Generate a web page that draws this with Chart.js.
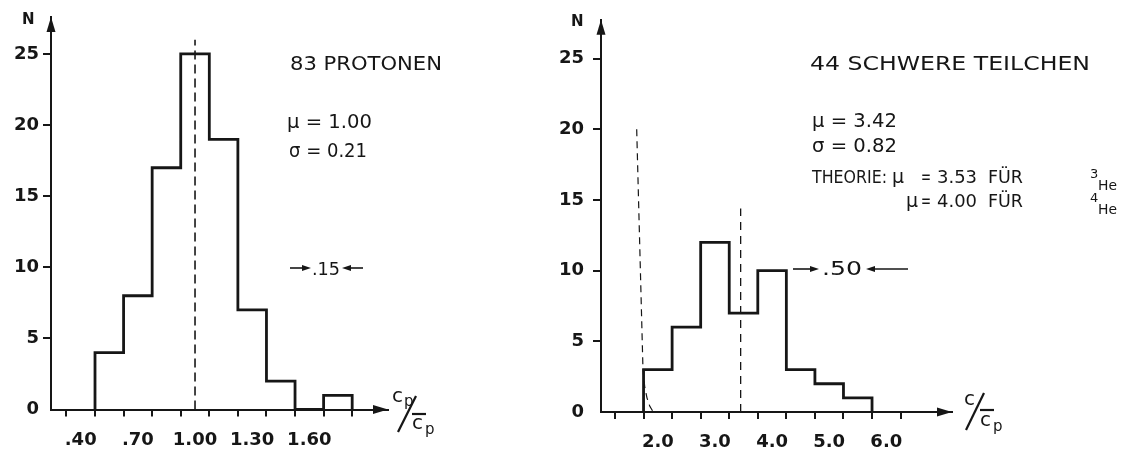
<!DOCTYPE html>
<html>
<head>
<meta charset="utf-8">
<script src="https://cdn.jsdelivr.net/npm/chart.js@4.4.1/dist/chart.umd.min.js"></script>
<style>
  html, body { margin: 0; padding: 0; background: #fff; }
  #wrap { position: relative; width: 1121px; height: 454px; }
  #left { position: absolute; left: 0; top: 0; width: 560px; height: 454px; }
  #right { position: absolute; left: 560px; top: 0; width: 561px; height: 454px; }
</style>
</head>
<body>
<div id="wrap">
  <div id="left"><canvas id="proton-chart"></canvas></div>
  <div id="right"><canvas id="heavy-chart"></canvas></div>
</div>
<script>
/* ---- data: protons (left) ---- */
const PROTON_EDGES = [0.475, 0.625, 0.775, 0.925, 1.075, 1.225, 1.375, 1.525, 1.675, 1.825];
const PROTON_COUNTS = [4, 8, 17, 25, 19, 7, 2, 0, 1];
const PROTON_TICK_MARKS = [0.325, 0.475, 0.625, 0.775, 0.925, 1.075, 1.225, 1.375, 1.525, 1.675, 1.825];
const PROTON_LABEL_VALUES = [0.40, 0.70, 1.00, 1.30, 1.60];
const PROTON_LABEL_TEXT = ['.40', '.70', '1.00', '1.30', '1.60'];
const PROTON_MEAN = 1.00;
const PROTON_MEAN_TOP = 26;

/* ---- data: heavy particles (right) ---- */
const HEAVY_EDGES = [1.75, 2.25, 2.75, 3.25, 3.75, 4.25, 4.75, 5.25, 5.75];
const HEAVY_COUNTS = [3, 6, 12, 7, 10, 3, 2, 1];
const HEAVY_TICK_MARKS = [1.25, 1.75, 2.25, 2.75, 3.25, 3.75, 4.25, 4.75, 5.25, 5.75, 6.25];
const HEAVY_LABEL_VALUES = [2.0, 3.0, 4.0, 5.0, 6.0];
const HEAVY_LABEL_TEXT = ['2.0', '3.0', '4.0', '5.0', '6.0'];
const HEAVY_MEAN = 3.45;
const HEAVY_MEAN_TOP = 14.4;
const CUTOFF_X = [1.63, 1.74, 1.77, 1.81, 1.86, 1.92];
const CUTOFF_Y = [20, 3, 1.8, 1.0, 0.4, 0];

const Y_TICKS = [0, 5, 10, 15, 20, 25];

const INK = '#161616';
const FONT = '"DejaVu Sans", "Liberation Sans", sans-serif';

function stepPoints(edges, counts) {
  const pts = [{ x: edges[0], y: 0 }];
  counts.forEach((c, i) => pts.push({ x: edges[i], y: c }));
  pts.push({ x: edges[edges.length - 1], y: 0 });
  return pts;
}

function isLabelValue(values, v) {
  return values.some(l => Math.abs(l - v) < 1e-6);
}

function drawText(ctx, str, x, y, size, width, weight) {
  ctx.save();
  ctx.font = `${weight || 'normal'} ${size}px ${FONT}`;
  ctx.fillStyle = INK;
  ctx.textAlign = 'left';
  ctx.textBaseline = 'alphabetic';
  if (width) {
    const w = ctx.measureText(str).width;
    ctx.translate(x, y);
    ctx.scale(width / w, 1);
    ctx.fillText(str, 0, 0);
  } else {
    ctx.fillText(str, x, y);
  }
  ctx.restore();
}

function arrow(ctx, fromX, toX, y) {
  // line with filled head at toX
  const dir = toX > fromX ? 1 : -1;
  ctx.save();
  ctx.strokeStyle = INK; ctx.fillStyle = INK; ctx.lineWidth = 1.6;
  ctx.beginPath(); ctx.moveTo(fromX, y); ctx.lineTo(toX - dir * 6, y); ctx.stroke();
  ctx.beginPath(); ctx.moveTo(toX, y); ctx.lineTo(toX - dir * 9, y - 3); ctx.lineTo(toX - dir * 9, y + 3); ctx.closePath(); ctx.fill();
  ctx.restore();
}

const axisArrows = {
  id: 'axisArrows',
  afterDraw(chart) {
    const { ctx, chartArea: a } = chart;
    ctx.save();
    ctx.fillStyle = INK;
    ctx.beginPath(); ctx.moveTo(a.left, a.top); ctx.lineTo(a.left - 4.5, a.top + 15); ctx.lineTo(a.left + 4.5, a.top + 15); ctx.closePath(); ctx.fill();
    ctx.beginPath(); ctx.moveTo(a.right, a.bottom); ctx.lineTo(a.right - 15, a.bottom - 4.5); ctx.lineTo(a.right - 15, a.bottom + 4.5); ctx.closePath(); ctx.fill();
    ctx.restore();
  }
};

function makeChart(id, cfg) {
  const datasets = [
    { data: stepPoints(cfg.edges, cfg.counts), stepped: 'before', borderColor: INK, borderWidth: 2.8, pointRadius: 0, clip: false, borderJoinStyle: 'miter' },
    { data: [{ x: cfg.mean, y: 0 }, { x: cfg.mean, y: cfg.meanTop }], borderColor: INK, borderWidth: cfg.dashWidth, borderDash: cfg.dash, pointRadius: 0 }
  ];
  if (cfg.curveX) {
    datasets.push({ data: cfg.curveX.map((x, i) => ({ x, y: cfg.curveY[i] })), borderColor: INK, borderWidth: 1.2, borderDash: [7, 5], pointRadius: 0, tension: 0 });
  }
  const tickFont = { family: FONT, size: 18, weight: 'bold' };
  new Chart(document.getElementById(id), {
    type: 'line',
    data: { datasets },
    options: {
      responsive: true,
      maintainAspectRatio: false,
      animation: false,
      layout: { padding: { top: cfg.padTop, right: cfg.padRight, left: 0, bottom: 0 } },
      plugins: { legend: { display: false }, tooltip: { enabled: false } },
      scales: {
        x: {
          type: 'linear', min: cfg.xMin, max: cfg.xMax,
          afterBuildTicks: s => { s.ticks = cfg.tickMarks.concat(cfg.labelValues).sort((a, b) => a - b).map(v => ({ value: v })); },
          afterFit: s => { s.height = cfg.xHeight; },
          border: { display: true, color: INK, width: 2 },
          grid: { drawOnChartArea: false, drawTicks: true, tickLength: 7, lineWidth: 2,
                  tickColor: c => (c.tick && isLabelValue(cfg.labelValues, c.tick.value)) ? 'rgba(0,0,0,0)' : INK },
          ticks: { autoSkip: false, maxRotation: 0, padding: 13, color: INK, font: tickFont,
                   callback: v => { const i = cfg.labelValues.findIndex(l => Math.abs(l - v) < 1e-6); return i >= 0 ? cfg.labelText[i] : ''; } }
        },
        y: {
          type: 'linear', min: 0, max: cfg.yMax,
          afterBuildTicks: s => { s.ticks = Y_TICKS.map(v => ({ value: v })); },
          afterFit: s => { s.width = cfg.yWidth; },
          border: { display: true, color: INK, width: 2 },
          grid: { drawOnChartArea: false, drawTicks: true, tickLength: 8, lineWidth: 2,
                  tickColor: c => (c.tick && c.tick.value === 0) ? 'rgba(0,0,0,0)' : INK },
          ticks: { padding: cfg.yPad, color: INK, font: tickFont, callback: v => String(v) }
        }
      }
    },
    plugins: [axisArrows, { id: 'notes', afterDraw: chart => cfg.notes(chart.ctx) }]
  });
}

document.addEventListener('DOMContentLoaded', () => {
  makeChart('proton-chart', {
    edges: PROTON_EDGES, counts: PROTON_COUNTS, tickMarks: PROTON_TICK_MARKS,
    labelValues: PROTON_LABEL_VALUES, labelText: PROTON_LABEL_TEXT,
    mean: PROTON_MEAN, meanTop: PROTON_MEAN_TOP, dash: [9, 5], dashWidth: 1.6,
    xMin: 0.244, xMax: 2.013, yMax: 27.6,
    padTop: 17, padRight: 172, xHeight: 44.5, yWidth: 51, yPad: 4,
    notes: ctx => {
      drawText(ctx, 'N', 22, 24, 15, 0, 'bold');
      drawText(ctx, '83 PROTONEN', 290, 70, 20, 152);
      drawText(ctx, '\u03bc = 1.00', 287, 128, 19, 85);
      drawText(ctx, '\u03c3 = 0.21', 289, 157, 19, 78);
      drawText(ctx, '.15', 312, 275, 18, 28);
      arrow(ctx, 290, 311, 268);
      arrow(ctx, 363, 342, 268);
      // axis title  cp / c̄p
      drawText(ctx, 'c', 392, 402, 20, 0);
      drawText(ctx, 'p', 404, 406, 15, 0);
      ctx.save(); ctx.strokeStyle = INK; ctx.lineWidth = 2.2;
      ctx.beginPath(); ctx.moveTo(398, 432); ctx.lineTo(416, 396); ctx.stroke();
      ctx.beginPath(); ctx.moveTo(412, 414); ctx.lineTo(426, 414); ctx.stroke();
      ctx.restore();
      drawText(ctx, 'c', 412, 429, 20, 0);
      drawText(ctx, 'p', 425, 434, 15, 0);
    }
  });

  const o = 560;
  makeChart('heavy-chart', {
    edges: HEAVY_EDGES, counts: HEAVY_COUNTS, tickMarks: HEAVY_TICK_MARKS,
    labelValues: HEAVY_LABEL_VALUES, labelText: HEAVY_LABEL_TEXT,
    mean: HEAVY_MEAN, meanTop: HEAVY_MEAN_TOP, dash: [8, 6], dashWidth: 1.3,
    curveX: CUTOFF_X, curveY: CUTOFF_Y,
    xMin: 1.005, xMax: 7.15, yMax: 27.75,
    padTop: 18, padRight: 169, xHeight: 42, yWidth: 41, yPad: 9,
    notes: ctx => {
      drawText(ctx, 'N', 571 - o, 26, 15, 0, 'bold');
      drawText(ctx, '44 SCHWERE TEILCHEN', 810 - o, 70, 20, 280);
      drawText(ctx, '\u03bc = 3.42', 812 - o, 127, 19, 85);
      drawText(ctx, '\u03c3 = 0.82', 812 - o, 152, 19, 85);
      drawText(ctx, 'THEORIE:', 812 - o, 183, 18, 75);
      drawText(ctx, '\u03bc', 892 - o, 183, 19, 0);
      drawText(ctx, '=', 921 - o, 183, 20, 10);
      drawText(ctx, '3.53', 937 - o, 183, 18, 40);
      drawText(ctx, 'F\u00dcR', 988 - o, 183, 18, 35);
      drawText(ctx, '3', 1090 - o, 178, 13, 0);
      drawText(ctx, 'He', 1098 - o, 190, 14, 19);
      drawText(ctx, '\u03bc', 906 - o, 207, 19, 0);
      drawText(ctx, '=', 921 - o, 207, 20, 10);
      drawText(ctx, '4.00', 937 - o, 207, 18, 40);
      drawText(ctx, 'F\u00dcR', 988 - o, 207, 18, 35);
      drawText(ctx, '4', 1090 - o, 202, 13, 0);
      drawText(ctx, 'He', 1098 - o, 214, 14, 19);
      drawText(ctx, '.50', 822 - o, 275, 19, 40);
      arrow(ctx, 793 - o, 819 - o, 269);
      arrow(ctx, 908 - o, 866 - o, 269);
      // axis title  c / c̄p
      drawText(ctx, 'c', 964 - o, 405, 20, 0);
      ctx.save(); ctx.strokeStyle = INK; ctx.lineWidth = 2.2;
      ctx.beginPath(); ctx.moveTo(966 - o, 430); ctx.lineTo(984 - o, 393); ctx.stroke();
      ctx.beginPath(); ctx.moveTo(980 - o, 410); ctx.lineTo(994 - o, 410); ctx.stroke();
      ctx.restore();
      drawText(ctx, 'c', 980 - o, 426, 20, 0);
      drawText(ctx, 'p', 993 - o, 431, 15, 0);
    }
  });
});
</script>
</body>
</html>
